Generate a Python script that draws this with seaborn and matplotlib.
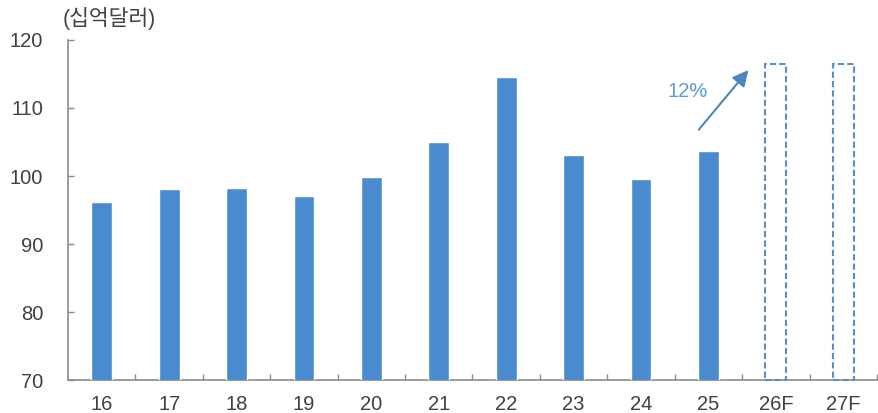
import matplotlib
matplotlib.use("Agg")
import matplotlib.pyplot as plt
import seaborn as sns
import pandas as pd

# Annual values (billion USD); 26F / 27F are forecasts
years = ["16", "17", "18", "19", "20", "21", "22", "23", "24", "25", "26F", "27F"]
actual_years = ["16", "17", "18", "19", "20", "21", "22", "23", "24", "25"]
actual_values = [96.2, 98.1, 98.2, 97.0, 99.8, 105.0, 114.6, 103.1, 99.5, 103.7]
forecast_years = ["26F", "27F"]
forecast_values = [116.5, 116.5]
y_ticks = [70, 80, 90, 100, 110, 120]
growth_label = "12%"

sns.set_theme(style="white")
plt.rcParams["font.family"] = ["Liberation Sans", "Noto Sans CJK KR", "DejaVu Sans"]

bar_color = "#4a8bcf"
text_color = "#404040"
spine_color = "#8c8c8c"

actual_df = pd.DataFrame({"year": actual_years, "value": actual_values})
forecast_df = pd.DataFrame({"year": forecast_years, "value": forecast_values})

fig = plt.figure(figsize=(8.79, 4.13), dpi=100)
ax = fig.add_axes([68 / 879, 33 / 413, (877 - 68) / 879, 340 / 413])

sns.barplot(data=actual_df, x="year", y="value", order=years, width=0.31,
            color=bar_color, saturation=1, ax=ax, zorder=3)
n_actual = len(ax.patches)
sns.barplot(data=forecast_df, x="year", y="value", order=years, width=0.31,
            color="#5a8fc4", fill=False, linestyle=(0, (3, 1.5)), linewidth=1.5,
            saturation=1, ax=ax, zorder=3)

ymin = y_ticks[0]
# forecast outlines start at the axis floor so their bottom edge shows
for patch, v in zip(ax.patches[n_actual:], forecast_values):
    patch.set_y(ymin)
    patch.set_height(v - ymin)
    patch.set_clip_on(False)

ax.set_ylim(ymin, y_ticks[-1])
ax.set_xlim(-0.5, len(years) - 0.5)
ax.set_yticks(y_ticks)
ax.set_xlabel("")
ax.set_ylabel("")

for side in ["top", "right"]:
    ax.spines[side].set_visible(False)
for side in ["left", "bottom"]:
    ax.spines[side].set_color(spine_color)
    ax.spines[side].set_linewidth(1.2)

ax.tick_params(axis="y", direction="in", length=4, width=1, color=spine_color,
               labelsize=14.5, labelcolor=text_color, pad=18, left=True)
ax.tick_params(axis="x", bottom=False, labelsize=14.5, labelcolor=text_color, pad=5)
# minor ticks mark the category boundaries on the x axis
ax.set_xticks([i + 0.5 for i in range(len(years))], minor=True)
ax.tick_params(axis="x", which="minor", direction="in", length=4, width=1,
               color=spine_color, bottom=True)

fig.text(63 / 879, 1 - 18 / 413, "(십억달러)", fontsize=15.5, color=text_color,
         va="center", ha="left")

# growth arrow toward the forecast years
ax.annotate("", xy=(9.62, 115.9), xytext=(8.83, 106.5),
            arrowprops=dict(arrowstyle="-|>,head_length=0.8,head_width=0.4",
                            color="#4f86c0", lw=1.5), zorder=4)
ax.text(8.69, 112.4, growth_label, fontsize=14.5, color="#5b9bd5",
        ha="center", va="center")

fig.savefig("out.png", dpi=100)
